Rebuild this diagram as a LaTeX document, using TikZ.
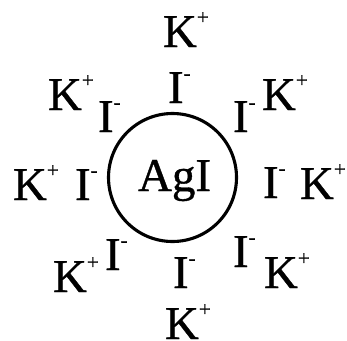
\documentclass[tikz,border=0pt]{standalone}
\usepackage{fontspec}
\setmainfont[FakeBold=0.8]{Liberation Serif}
\newcommand{\ionlbl}[2]{#1\raisebox{23pt}{\fontsize{21}{21}\selectfont #2}}
\begin{document}
\begin{tikzpicture}[x=1pt,y=-1pt,
  ion/.style={anchor=base west,inner sep=0pt,outer sep=0pt,font=\fontsize{47}{47}\selectfont},
  particle/.style={circle,draw=black,line width=3.1pt,minimum size=128pt,inner sep=0pt}]
\useasboundingbox (0,0) rectangle (347,340);
\clip (0,0) rectangle (347,340);
\node[particle] (core) at (172.5,177.5) {};
\node[ion] (agi) at (138,191) {AgI};
% K+ ions
\node[ion] (kt)  at (163,47)  {\ionlbl{K}{+}};
\node[ion] (kul) at (48,110)  {\ionlbl{K}{+}};
\node[ion] (kur) at (262,110) {\ionlbl{K}{+}};
\node[ion] (kl)  at (13,200)  {\ionlbl{K}{+}};
\node[ion] (kr)  at (300,199) {\ionlbl{K}{+}};
\node[ion] (kll) at (53,292)  {\ionlbl{K}{+}};
\node[ion] (klr) at (264,288) {\ionlbl{K}{+}};
\node[ion] (kb)  at (165,339) {\ionlbl{K}{+}};
% I- ions
\node[ion] (it)  at (168,103) {\ionlbl{I}{-}};
\node[ion] (iul) at (98,132)  {\ionlbl{I}{-}};
\node[ion] (iur) at (233,132) {\ionlbl{I}{-}};
\node[ion] (il)  at (75,200)  {\ionlbl{I}{-}};
\node[ion] (ir)  at (263,198) {\ionlbl{I}{-}};
\node[ion] (ill) at (105,270) {\ionlbl{I}{-}};
\node[ion] (ilr) at (233,267) {\ionlbl{I}{-}};
\node[ion] (ib)  at (173,288) {\ionlbl{I}{-}};
\end{tikzpicture}
\end{document}
